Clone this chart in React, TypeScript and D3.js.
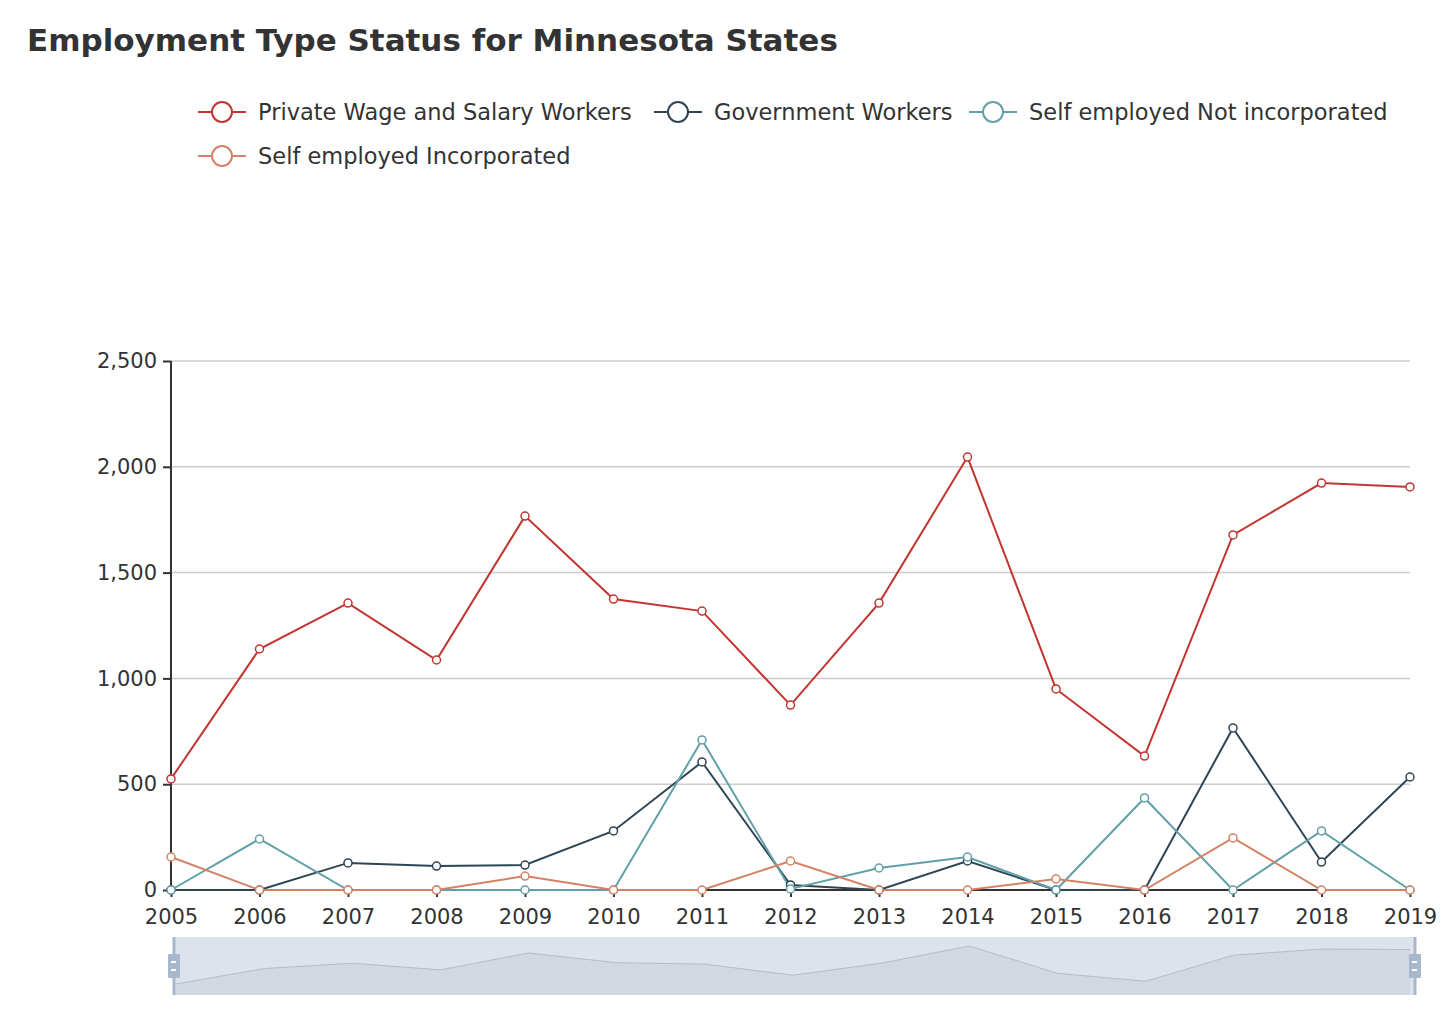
import React, { useEffect, useRef } from "react";
import * as d3 from "d3";

const years = ["2005", "2006", "2007", "2008", "2009", "2010", "2011", "2012", "2013", "2014", "2015", "2016", "2017", "2018", "2019"];
const privateWage = [525, 1139, 1356, 1087, 1767, 1375, 1318, 874, 1356, 2046, 950, 633, 1678, 1923, 1905];
const government = [0, 0, 128, 113, 118, 279, 605, 24, 0, 137, 0, 0, 766, 132, 534];
const selfNotInc = [0, 241, 0, 0, 0, 0, 709, 5, 104, 156, 0, 435, 0, 279, 0];
const selfInc = [156, 0, 0, 0, 66, 0, 0, 137, 0, 0, 52, 0, 246, 0, 0];
const yTicks = [0, 500, 1000, 1500, 2000, 2500];

const seriesNames = ["Private Wage and Salary Workers", "Government Workers", "Self employed Not incorporated", "Self employed Incorporated"];
const seriesColors = ["#c23531", "#2f4554", "#61a0a8", "#d48265"];

const W = 1456, H = 1018;
const FONT = "'DejaVu Sans', Verdana, sans-serif";

export default function App() {
  const ref = useRef<SVGSVGElement>(null);

  useEffect(() => {
    const svg = d3.select(ref.current);
    svg.selectAll("*").remove();

    const margin = { top: 361, right: 46, bottom: 128, left: 171 };
    const x = d3.scalePoint<string>().domain(years).range([margin.left, W - margin.right]);
    const y = d3.scaleLinear().domain([0, 2500]).range([H - margin.bottom, margin.top]);

    const allSeries = [privateWage, government, selfNotInc, selfInc];

    // title
    svg.append("text")
      .attr("x", 27).attr("y", 51)
      .attr("font-family", FONT).attr("font-size", 31).attr("font-weight", "bold")
      .attr("fill", "#333")
      .text("Employment Type Status for Minnesota States");

    // legend
    const legendPos = [[198, 112], [654, 112], [969, 112], [198, 156]];
    const legend = svg.append("g");
    seriesNames.forEach((name, i) => {
      const [lx, ly] = legendPos[i];
      const g = legend.append("g").attr("transform", `translate(${lx},${ly})`);
      g.append("line").attr("x1", 0).attr("x2", 48).attr("y1", 0).attr("y2", 0)
        .attr("stroke", seriesColors[i]).attr("stroke-width", 2);
      g.append("circle").attr("cx", 24).attr("cy", 0).attr("r", 10)
        .attr("fill", "#fff").attr("stroke", seriesColors[i]).attr("stroke-width", 2);
      g.append("text").attr("x", 60).attr("y", 0).attr("dy", "0.35em")
        .attr("font-family", FONT).attr("font-size", 22.5).attr("fill", "#333")
        .text(name);
    });

    // grid
    svg.append("g")
      .selectAll("line")
      .data(yTicks.filter(t => t > 0))
      .join("line")
      .attr("x1", margin.left).attr("x2", W - margin.right)
      .attr("y1", d => y(d)).attr("y2", d => y(d))
      .attr("stroke", "#ccc").attr("stroke-width", 1.5);

    // y axis
    svg.append("g")
      .attr("transform", `translate(${margin.left},0)`)
      .call(d3.axisLeft(y).tickValues(yTicks).tickFormat(d3.format(",")).tickSize(8).tickPadding(6))
      .call(g => g.select(".domain").attr("stroke", "#333").attr("stroke-width", 2).attr("d", `M0,${y(0)}V${y(2500)}`))
      .call(g => g.selectAll(".tick line").attr("stroke", "#333").attr("stroke-width", 2))
      .call(g => g.selectAll(".tick text").attr("font-family", FONT).attr("font-size", 21).attr("fill", "#333"));

    // x axis
    svg.append("g")
      .attr("transform", `translate(0,${y(0)})`)
      .call(d3.axisBottom(x).tickSize(7).tickPadding(12))
      .call(g => g.select(".domain").attr("stroke", "#333").attr("stroke-width", 2).attr("d", `M${margin.left},0H${W - margin.right}`))
      .call(g => g.selectAll(".tick line").attr("stroke", "#333").attr("stroke-width", 2))
      .call(g => g.selectAll(".tick text").attr("font-family", FONT).attr("font-size", 21).attr("fill", "#333"));

    // lines
    const line = d3.line<number>().x((d, i) => x(years[i]) as number).y(d => y(d));
    allSeries.forEach((vals, i) => {
      svg.append("path").datum(vals)
        .attr("d", line)
        .attr("fill", "none")
        .attr("stroke", seriesColors[i])
        .attr("stroke-width", 2);
    });
    allSeries.forEach((vals, i) => {
      svg.append("g").selectAll("circle")
        .data(vals)
        .join("circle")
        .attr("cx", (d, j) => x(years[j]) as number)
        .attr("cy", d => y(d))
        .attr("r", 4)
        .attr("fill", "#fff")
        .attr("stroke", seriesColors[i])
        .attr("stroke-width", 1.5);
    });

    // data zoom slider
    const zTop = 937, zBottom = 995, zLeft = 174, zRight = 1415;
    const zx = d3.scalePoint<string>().domain(years).range([zLeft + 2, zRight - 5]);
    const zy = d3.scaleLinear().domain([0, d3.max(privateWage) as number]).range([zBottom + 2, zTop + 9]);
    const dz = svg.append("g");
    dz.append("rect").attr("x", zLeft).attr("y", zTop).attr("width", zRight - zLeft).attr("height", zBottom - zTop)
      .attr("fill", "#dde3ed");
    const area = d3.area<number>()
      .x((d, i) => zx(years[i]) as number)
      .y0(zBottom).y1(d => Math.min(zy(d), zBottom));
    dz.append("path").datum(privateWage).attr("d", area).attr("fill", "#d1d8e2");
    dz.append("path").datum(privateWage)
      .attr("d", d3.line<number>().x((d, i) => zx(years[i]) as number).y(d => zy(d)))
      .attr("fill", "none").attr("stroke", "#b4bcc8").attr("stroke-width", 1);
    [zLeft, zRight].forEach(hx => {
      dz.append("line").attr("x1", hx).attr("x2", hx).attr("y1", zTop).attr("y2", zBottom)
        .attr("stroke", "#a7b7cc").attr("stroke-width", 3);
      dz.append("rect").attr("x", hx - 6).attr("y", zTop + 17).attr("width", 12).attr("height", 24)
        .attr("rx", 1).attr("fill", "#a7b7cc");
      [zTop + 25, zTop + 33].forEach(ly => {
        dz.append("line").attr("x1", hx - 3).attr("x2", hx + 2).attr("y1", ly).attr("y2", ly)
          .attr("stroke", "#fff").attr("stroke-width", 2);
      });
    });
  }, []);

  return (
    <div style={{ position: "absolute", left: 0, top: 0 }}>
      <svg ref={ref} width={W} height={H} style={{ display: "block", background: "#fff" }} />
    </div>
  );
}
